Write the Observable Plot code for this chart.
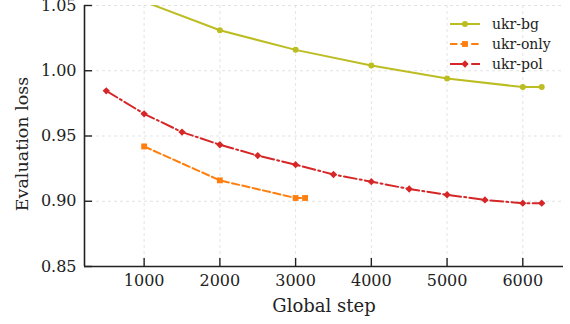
<!DOCTYPE html>
<html>
<head>
<meta charset="utf-8">
<script src="https://cdn.jsdelivr.net/npm/d3@7"></script>
<script src="https://cdn.jsdelivr.net/npm/@observablehq/plot@0.6"></script>
<style>
  body { margin: 0; background: #fff; }
  #wrap { position: relative; width: 570px; height: 324px; font-family: "DejaVu Serif", serif; }
  #legend { position: absolute; left: 446px; top: 14px; }
</style>
</head>
<body>
<div id="wrap"></div>
<script>
const seriesNames = ["ukr-bg", "ukr-only", "ukr-pol"];
const seriesColors = ["#bcbd22", "#ff7f0e", "#d62728"];
const seriesDash = ["none", "7.4,3.2", "12.8,3.2,2,3.2"];
const seriesSymbols = ["circle", "square", "diamond2"];
const seriesR = [3, 3.3, 3.3];

const stepsBg = [1000, 2000, 3000, 4000, 5000, 6000, 6250];
const lossBg = [1.053, 1.031, 1.016, 1.004, 0.994, 0.9875, 0.9875];

const stepsOnly = [1000, 2000, 3000, 3125];
const lossOnly = [0.942, 0.916, 0.9025, 0.9025];

const stepsPol = [500, 1000, 1500, 2000, 2500, 3000, 3500, 4000, 4500, 5000, 5500, 6000, 6250];
const lossPol = [0.9846, 0.967, 0.953, 0.9433, 0.935, 0.928, 0.9205, 0.915, 0.9094, 0.905, 0.901, 0.8985, 0.8985];

const xTicks = [1000, 2000, 3000, 4000, 5000, 6000];
const yTicks = [0.85, 0.90, 0.95, 1.00, 1.05];
const xLabel = "Global step";
const yLabel = "Evaluation loss";

const table = (steps, losses) => steps.map((s, i) => ({step: s, loss: losses[i]}));
const data = [table(stepsBg, lossBg), table(stepsOnly, lossOnly), table(stepsPol, lossPol)];

const W = 570, H = 324, mL = 84, mR = 7, mT = 5, mB = 58;
const tickLen = 8;
const xDomain = [212.5, 6537.5];
const yDomain = [0.85, 1.05];
const ink = "#222";
// tick length expressed in data units of the perpendicular scale
const yTickSpan = tickLen / (H - mT - mB) * (yDomain[1] - yDomain[0]);
const xTickSpan = tickLen / (W - mL - mR) * (xDomain[1] - xDomain[0]);

const marks = [
  Plot.gridX(xTicks, {stroke: "#dcdcdc", strokeOpacity: 1, strokeDasharray: "3,3", strokeWidth: 0.8}),
  Plot.gridY(yTicks, {stroke: "#dcdcdc", strokeOpacity: 1, strokeDasharray: "3,3", strokeWidth: 0.8}),
];
data.forEach((d, i) => {
  marks.push(Plot.line(d, {x: "step", y: "loss", stroke: seriesColors[i], strokeWidth: 2, strokeDasharray: seriesDash[i], clip: true}));
  marks.push(Plot.dot(d, {x: "step", y: "loss", fill: seriesColors[i], stroke: "none", symbol: () => seriesSymbols[i], r: seriesR[i], clip: true}));
});
marks.push(
  // tick labels
  Plot.axisX(xTicks, {tickSize: 0, tickPadding: 8, fontSize: 16, tickFormat: d3.format("d"), fill: ink, label: null}),
  Plot.axisY(yTicks, {tickSize: 0, tickPadding: 8, fontSize: 16, tickFormat: d3.format(".2f"), fill: ink, label: null}),
  // inward tick marks
  Plot.ruleX(xTicks, {x: d => d, y1: yDomain[0], y2: yDomain[0] + yTickSpan, stroke: ink, strokeWidth: 1.4}),
  Plot.ruleY(yTicks, {y: d => d, x1: xDomain[0], x2: xDomain[0] + xTickSpan, stroke: ink, strokeWidth: 1.4}),
  // spines
  Plot.ruleY([yDomain[0]], {stroke: ink, strokeWidth: 1.6}),
  Plot.ruleX([xDomain[0]], {stroke: ink, strokeWidth: 1.6}),
  // axis titles
  Plot.text([xLabel], {frameAnchor: "bottom", lineAnchor: "middle", dy: 40, fontSize: 18, fill: ink}),
  Plot.text([yLabel], {frameAnchor: "left", textAnchor: "middle", lineAnchor: "middle", dx: -62, dy: 8, rotate: -90, fontSize: 17.5, fill: ink})
);

const chart = Plot.plot({
  width: W,
  height: H,
  marginLeft: mL,
  marginRight: mR,
  marginTop: mT,
  marginBottom: mB,
  style: {fontFamily: "DejaVu Serif", fontSize: "16px", color: ink, background: "#fff", overflow: "visible"},
  x: {domain: xDomain},
  y: {domain: yDomain},
  marks
});
document.getElementById("wrap").appendChild(chart);

// legend
const lg = d3.select("#wrap").append("svg").attr("id", "legend").attr("width", 120).attr("height", 64);
seriesNames.forEach((name, i) => {
  const yy = 10 + i * 20;
  const g = lg.append("g");
  g.append("line").attr("x1", 4).attr("x2", 34).attr("y1", yy).attr("y2", yy)
    .attr("stroke", seriesColors[i]).attr("stroke-width", 2)
    .attr("stroke-dasharray", seriesDash[i] === "none" ? null : seriesDash[i]);
  g.append("path").attr("transform", `translate(19,${yy})`)
    .attr("d", d3.symbol(i === 0 ? d3.symbolCircle : i === 1 ? d3.symbolSquare : d3.symbolDiamond2, Math.PI * seriesR[i] * seriesR[i])())
    .attr("fill", seriesColors[i]);
  g.append("text").attr("x", 46).attr("y", yy).attr("dy", "0.35em")
    .attr("font-family", "DejaVu Serif").attr("font-size", 14).attr("fill", ink).text(name);
});
</script>
</body>
</html>
